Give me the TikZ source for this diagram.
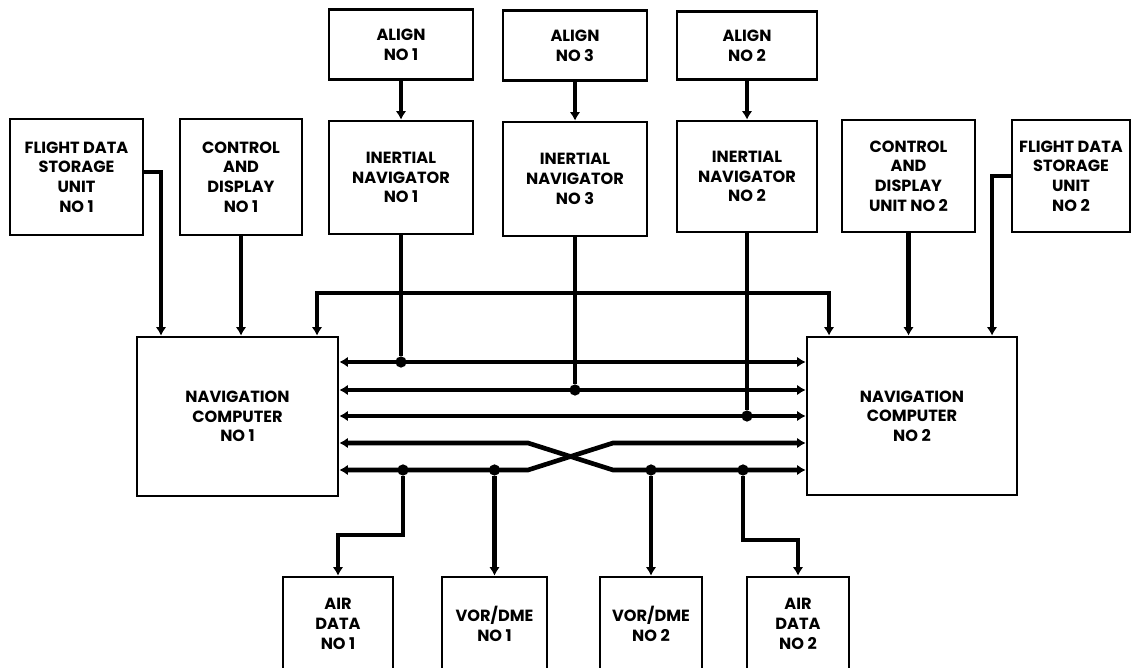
\documentclass[tikz,border=0pt]{standalone}
\usepackage{fontspec}
\setmainfont{Poppins}
\usetikzlibrary{arrows.meta,positioning}

\begin{document}
\begin{tikzpicture}[
    x=0.025cm, y=-0.025cm,
    node distance=0.96cm,
    unit/.style={rectangle, draw, line width=2pt, inner sep=0pt, align=center, font=\bfseries\fontsize{11.5}{14}\selectfont},
    bus/.style={line width=3.3pt},
    feed/.style={bus, -{Latex[length=6pt,width=7.5pt]}},
    link/.style={bus, {Latex[length=6pt,width=7.5pt]}-{Latex[length=6pt,width=7.5pt]}},
    junction/.style={circle, fill, inner sep=0pt, minimum size=8pt}
]
\useasboundingbox (0,0) rectangle (1131,668);

% upper units
\node[unit, minimum width=3.325cm, minimum height=2.9cm] (fds1) at (76.5,177) {FLIGHT DATA\\STORAGE\\UNIT\\NO 1};
\node[unit, minimum width=3.05cm, minimum height=2.9cm] (cd1) at (241,177) {CONTROL\\AND\\DISPLAY\\NO 1};
\node[unit, minimum width=3.6cm, minimum height=2.825cm] (in1) at (401,177.5) {INERTIAL\\NAVIGATOR\\NO 1};
\node[unit, minimum width=3.6cm, minimum height=2.85cm] (in3) at (575,179) {INERTIAL\\NAVIGATOR\\NO 3};
\node[unit, minimum width=3.5cm, minimum height=2.775cm] (in2) at (747,176.5) {INERTIAL\\NAVIGATOR\\NO 2};
\node[unit, minimum width=3.325cm, minimum height=2.8cm] (cd2) at (908.5,176) {CONTROL\\AND\\DISPLAY\\UNIT NO 2};
\node[unit, minimum width=2.95cm, minimum height=2.8cm] (fds2) at (1071,176) {FLIGHT DATA\\STORAGE\\UNIT\\NO 2};

\node[unit, minimum width=3.6cm, minimum height=1.75cm, above=of in1] (al1) {ALIGN\\NO 1};
\node[unit, minimum width=3.6cm, minimum height=1.75cm, above=of in3] (al3) {ALIGN\\NO 3};
\node[unit, minimum width=3.5cm, minimum height=1.7cm, above=of in2] (al2) {ALIGN\\NO 2};

% computers
\node[unit, minimum width=5.025cm, minimum height=3.975cm] (nc1) at (237.5,416.5) {NAVIGATION\\COMPUTER\\NO 1};
\node[unit, minimum width=5.25cm, minimum height=3.95cm] (nc2) at (912,416) {NAVIGATION\\COMPUTER\\NO 2};

% lower units
\node[unit, minimum width=2.75cm, minimum height=2.35cm] (ad1) at (338,624) {AIR\\DATA\\NO 1};
\node[unit, minimum width=2.625cm, minimum height=2.35cm] (vor1) at (494.5,624) {VOR/DME\\NO 1};
\node[unit, minimum width=2.55cm, minimum height=2.35cm] (vor2) at (651,624) {VOR/DME\\NO 2};
\node[unit, minimum width=2.55cm, minimum height=2.35cm] (ad2) at (798,624) {AIR\\DATA\\NO 2};

\coordinate (drop1) at (161,0);
\coordinate (drop2) at (992,0);
\coordinate (ringL) at (317,293);
\coordinate (ringR) at (829,293);

% inputs to the computers
\draw[feed] ([yshift=0.125cm]fds1.east) -| (drop1 |- nc1.north);
\draw[feed] (cd1) -- (cd1 |- nc1.north);
\draw[feed] (cd2) -- (cd2 |- nc2.north);
\draw[feed] (fds2.west) -| (drop2 |- nc2.north);
\draw[link] (ringL |- nc1.north) -- (ringL) -- (ringR) -- (ringR |- nc2.north);

\draw[feed] (al1) -- (in1);
\draw[feed] (al3) -- (in3);
\draw[feed] (al2) -- (in2);

% data buses
\foreach \y in {362,390,416}
  \draw[link] (nc1.east |- 0,\y) -- (nc2.west |- 0,\y);
\draw[link] (nc1.east |- 0,443) -- (528,443) -- (613,470) -- (nc2.west |- 0,470);
\draw[link] (nc1.east |- 0,470) -- (528,470) -- (613,443) -- (nc2.west |- 0,443);

\node[junction] (j1) at (in1.south |- 0,362) {};
\node[junction] (j2) at (in3.south |- 0,390) {};
\node[junction] (j3) at (in2.south |- 0,416) {};
\node[junction] (j4) at (403,470) {};
\node[junction] (j5) at (vor1.north |- 0,470) {};
\node[junction] (j6) at (vor2.north |- 0,470) {};
\node[junction] (j7) at (743,470) {};

\draw[bus] (in1) -- (j1);
\draw[bus] (in3) -- (j2);
\draw[bus] (in2) -- (j3);

\draw[feed] (j4) -- ++(0,65) -| (ad1.north);
\draw[feed] (j5) -- (vor1);
\draw[feed] (j6) -- (vor2);
\draw[feed] (j7) -- ++(0,70) -| (ad2.north);

\end{tikzpicture}
\end{document}
